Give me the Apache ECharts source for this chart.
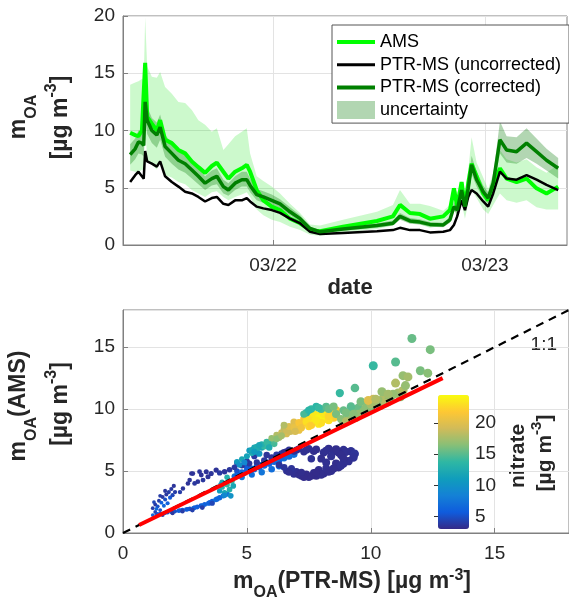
<!DOCTYPE html>
<html><head><meta charset="utf-8">
<script src="https://cdn.jsdelivr.net/npm/echarts@6/dist/echarts.min.js"></script>
<style>html,body{margin:0;padding:0;background:#fff}#c{width:569px;height:600px}</style>
</head><body><div id="c"></div>
<script>
// ---------- DATA ----------
// time in hours since 03/21 00:00
const hours = [7.81, 8.38, 8.75, 9.14, 9.35, 9.51, 9.74, 10.27, 10.83, 11.21, 11.77, 12.53, 13.28, 14.04, 14.80, 15.54, 16.30, 17.06, 17.63, 18.37, 18.94, 19.70, 20.46, 21.02, 21.40, 22.15, 22.90, 23.85, 24.79, 25.92, 27.06, 28.19, 29.32, 31.92, 35.77, 37.58, 38.38, 39.51, 40.64, 41.77, 43.28, 44.04, 44.49, 44.86, 45.36, 45.74, 46.11, 46.49, 47.06, 47.81, 48.37, 48.94, 49.70, 50.46, 51.59, 52.72, 53.85, 54.98, 56.30];
const amsOA = [9.8, 9.6, 9.5, 10.0, 9.9, 15.9, 11.2, 10.6, 10.0, 10.9, 9.2, 8.9, 8.3, 8.0, 7.3, 6.8, 6.3, 6.9, 7.2, 6.4, 5.8, 6.4, 6.7, 7.0, 6.4, 4.8, 3.9, 3.35, 3.05, 2.3, 1.9, 1.3, 1.2, 1.6, 2.1, 2.5, 3.5, 2.8, 2.7, 2.3, 2.5, 3.05, 4.95, 3.35, 5.5, 3.35, 5.4, 7.1, 6.0, 4.5, 3.9, 5.1, 6.7, 5.8, 5.5, 5.8, 4.95, 4.5, 5.1];
const ptrUncorrected = [5.5, 6.1, 6.4, 6.0, 5.8, 8.2, 7.3, 7.1, 6.85, 7.3, 6.0, 5.5, 5.1, 4.65, 4.5, 4.2, 3.8, 4.1, 4.2, 3.6, 3.5, 3.9, 3.9, 4.1, 3.8, 3.35, 3.2, 3.05, 2.8, 2.3, 1.9, 1.15, 0.95, 1.05, 1.2, 1.3, 1.5, 1.3, 1.3, 1.1, 1.15, 1.3, 1.75, 2.5, 3.9, 3.05, 4.2, 4.8, 4.5, 3.8, 3.35, 4.5, 6.4, 5.8, 5.7, 6.1, 5.7, 5.25, 4.8];
const ptrCorrected = [7.9, 8.4, 9.0, 8.9, 8.7, 12.5, 10.9, 10.0, 9.6, 10.3, 8.6, 8.0, 7.4, 7.1, 6.55, 6.0, 5.4, 5.8, 6.0, 5.1, 4.8, 5.4, 5.7, 5.7, 5.2, 4.4, 4.2, 3.9, 3.6, 2.9, 2.3, 1.45, 1.15, 1.4, 1.7, 1.9, 2.5, 2.1, 2.0, 1.8, 1.75, 2.2, 3.35, 3.05, 4.8, 3.35, 4.95, 7.0, 5.7, 4.65, 4.1, 5.4, 9.2, 8.3, 8.15, 8.9, 8.15, 7.4, 6.7];
const corrUncLow = [7.0, 7.5, 8.0, 7.9, 7.7, 11.1, 9.7, 8.9, 8.5, 9.2, 7.7, 7.1, 6.6, 6.3, 5.8, 5.3, 4.8, 5.2, 5.3, 4.5, 4.3, 4.8, 5.1, 5.1, 4.6, 3.9, 3.7, 3.5, 3.2, 2.6, 2.0, 1.3, 1.0, 1.25, 1.5, 1.7, 2.2, 1.85, 1.8, 1.6, 1.55, 1.95, 3.0, 2.7, 4.3, 3.0, 4.4, 6.2, 5.1, 4.1, 3.6, 4.8, 8.0, 7.2, 7.1, 7.6, 7.1, 6.5, 5.8];
const corrUncHigh = [8.8, 9.3, 10.0, 9.9, 9.7, 13.9, 12.1, 11.1, 10.7, 11.4, 9.6, 8.9, 8.2, 7.9, 7.3, 6.7, 6.0, 6.5, 6.7, 5.7, 5.4, 6.0, 6.4, 6.4, 5.8, 4.9, 4.7, 4.4, 4.0, 3.3, 2.6, 1.6, 1.3, 1.6, 1.9, 2.15, 2.8, 2.35, 2.25, 2.0, 1.95, 2.45, 3.75, 3.4, 5.4, 3.75, 5.5, 7.8, 6.4, 5.2, 4.6, 6.1, 10.8, 9.5, 9.4, 10.2, 9.3, 8.4, 7.6];
const amsUncLow = [6.5, 6.4, 6.3, 6.6, 6.5, 10.5, 7.4, 7.0, 6.6, 7.2, 6.1, 5.9, 5.5, 5.3, 4.8, 4.5, 4.2, 4.6, 4.7, 4.2, 3.9, 4.2, 4.4, 4.6, 4.2, 3.1, 2.6, 2.2, 2.0, 1.6, 1.3, 0.9, 0.8, 1.1, 1.4, 1.7, 2.3, 1.9, 1.8, 1.5, 1.7, 2.0, 3.3, 2.3, 3.7, 2.3, 3.7, 4.8, 4.1, 3.1, 2.7, 3.5, 4.5, 3.9, 3.7, 3.9, 3.3, 3.1, 3.1];
const amsUncHigh = [14.0, 14.2, 14.3, 14.5, 14.4, 19.9, 15.6, 14.7, 14.6, 15.1, 13.8, 13.2, 12.5, 12.4, 11.8, 10.9, 10.5, 9.9, 10.2, 8.3, 8.8, 9.5, 9.9, 10.2, 8.0, 6.0, 5.6, 5.1, 4.5, 3.6, 2.8, 1.8, 1.7, 2.2, 2.9, 3.5, 4.8, 3.6, 3.6, 3.4, 3.0, 3.5, 5.1, 4.6, 5.6, 4.4, 6.5, 9.4, 7.2, 5.9, 4.9, 6.3, 8.3, 7.5, 7.2, 7.5, 6.8, 6.3, 7.0];
const dayTickHours = [24, 48];

// scatter: [m_OA(PTR-MS), m_OA(AMS), nitrate]
const oaScatter = [
[1.2,1.45,6.5],[1.35,1.5,7],[1.5,1.55,6],[1.65,1.6,6.5],[1.8,1.65,5.5],[1.95,1.7,6],[2.1,1.75,5],[2.25,1.8,6],[2.4,1.85,5.5],[2.55,1.9,6],[2.7,1.95,5],[2.85,2.0,6.5],[3.0,2.1,6],[3.15,2.2,5.5],[3.3,2.3,6],[3.45,2.4,6.5],[3.6,2.55,6],[3.75,2.7,7],[3.9,2.85,6.5],[4.05,3.0,7.5],
[1.4,1.55,5.5],[1.7,1.62,6],[2.0,1.72,6.5],[2.3,1.83,6],[2.6,1.92,5.5],[2.9,2.05,6],[3.2,2.2,6.5],[3.5,2.45,6],[3.8,2.75,6.5],[4.2,3.15,7],
[1.6,1.45,4],[2.0,1.6,3.8],[2.4,1.75,4],[2.8,1.85,4.2],[3.2,2.05,4],[3.6,2.4,4.5],[1.3,1.7,4.5],[1.5,1.85,5],
[1.2,2.0,4],[1.3,2.3,3.8],[1.4,2.15,5],[1.45,2.6,4],[1.55,2.45,6],[1.6,2.9,3.8],[1.7,2.7,5],[1.75,3.1,3.8],[1.8,2.4,6],[1.85,3.3,4],[1.9,2.85,5.5],[1.95,3.55,3.8],[2.0,3.05,4.5],[2.05,3.8,3.6],[2.1,3.3,4],[1.35,1.95,6.5],[1.65,2.2,6.5],[1.25,2.5,4.5],[1.5,3.0,4],[1.7,3.4,3.7],
[2.42,3.6,3.6],[2.62,4.0,3.5],[2.76,4.8,3.5],[3.09,4.95,3.6],[3.16,4.68,3.5],[3.23,4.27,3.7],[3.43,4.54,3.5],[3.56,4.8,3.6],[3.76,5.08,3.5],[3.02,4.14,3.6],[2.89,4.0,3.7],[3.36,4.95,3.5],[2.69,4.27,3.6],[2.82,4.8,3.5],[2.3,3.3,4],[3.9,4.85,3.8],[4.1,4.95,3.6],[4.3,5.1,3.7],
[3.9,3.4,11],[4.0,3.7,13],[4.1,3.25,12],[4.2,3.9,14],[4.3,3.5,13],[4.4,4.2,14],[4.2,4.5,13],[4.0,4.1,12],[4.35,3.0,10],[4.5,4.6,13],[4.1,3.05,9],[4.45,3.8,12],[3.95,3.9,11],
[4.5,4.55,6.5],[4.7,4.75,6],[4.9,4.85,6.5],[5.1,5.0,6],[5.3,5.15,6.5],[5.5,5.3,6],[5.7,5.45,6.5],[5.9,5.6,6],[6.1,5.75,6.5],[6.3,5.9,6],[6.5,6.05,7],[6.7,6.2,6.5],[6.9,6.35,7],[4.8,4.5,7.5],[5.2,4.7,7],[5.6,4.9,7.5],[6.0,5.15,7],[6.3,5.4,7],[4.6,5.0,5],[5.0,5.3,5.5],
[4.6,4.65,6],[4.8,4.9,6.5],[5.0,5.05,6],[5.2,5.2,6.5],[5.4,5.4,6],[5.6,5.5,6.5],[5.8,5.65,6],[6.0,5.85,6.5],[6.2,6.0,7],[6.4,6.15,6.5],[6.6,6.25,7],[6.8,6.4,7],
[4.5,5.3,3.8],[4.8,5.45,3.6],[5.1,5.6,3.8],[5.4,5.7,3.6],[5.7,5.85,3.7],[6.0,6.1,3.6],[6.2,6.3,3.8],[4.6,5.65,4],[5.0,5.8,3.7],[5.3,6.2,3.8],[5.8,6.3,3.6],[6.4,6.4,3.8],
[6.5,6.5,3.4],[6.9,6.6,3.3],[7.3,6.55,3.3],[7.7,6.6,3.2],[8.1,6.5,3.3],[8.5,6.6,3.4],[8.9,6.7,3.3],[9.2,6.6,3.4],[9.35,6.4,3.5],[7.5,6.8,3.3],[8.3,6.8,3.2],[6.7,6.7,3.5],[7.1,6.8,3.4],[8.7,6.5,3.2],
[6.6,6.55,3.3],[7.0,6.7,3.4],[7.4,6.7,3.3],[7.8,6.75,3.2],[8.2,6.65,3.3],[8.6,6.75,3.2],[9.0,6.55,3.3],
[9.3,6.1,3.4],[9.1,5.8,3.3],[8.0,6.0,3.2],[8.4,6.2,3.3],[8.8,6.3,3.2],[7.6,6.0,3.4],[8.2,5.7,3.3],[8.9,6.0,3.2],
[6.3,5.5,3.6],[6.6,5.0,3.4],[6.9,4.75,3.3],[7.2,4.6,3.2],[7.5,4.5,3.2],[7.8,4.6,3.1],[8.1,4.8,3.2],[8.4,5.0,3.3],[8.7,5.3,3.2],[8.9,5.6,3.3],[7.0,4.95,3.3],[7.7,4.85,3.2],[8.2,5.2,3.3],[8.6,5.6,3.2],[6.8,5.2,3.5],[7.4,4.75,3.1],[6.5,5.3,3.6],[7.9,5.1,3.2],
[6.7,4.9,3.3],[7.1,4.7,3.2],[7.3,4.5,3.1],[7.6,4.6,3.1],[8.0,4.7,3.2],[8.3,4.95,3.2],[8.5,5.2,3.2],[8.8,5.45,3.3],[7.2,4.9,3.2],[7.8,4.9,3.1],
[4.6,5.75,11],[4.8,5.95,12],[5.0,6.2,11.5],[5.2,6.45,12.5],[5.4,6.7,13],[5.6,6.9,12],[5.8,7.1,13],[5.5,6.4,10.5],[5.9,7.3,13.5],[5.3,6.9,12],[5.7,7.0,14],[6.0,7.4,13.5],[5.1,6.65,11],[6.1,7.2,14.5],[4.7,5.5,10],[4.9,5.7,9],
[5.2,6.7,12],[5.4,6.95,12.5],[5.6,7.15,13],[5.8,7.35,14],[5.5,7.1,12],[5.9,6.9,12.5],[6.1,7.55,15],[5.3,6.55,11],
[6.0,7.65,17],[6.2,7.9,18],[6.4,8.1,19],[6.6,8.0,19.5],[6.3,7.7,17.5],[6.8,8.4,20],[7.0,8.6,20.5],[7.2,8.8,21],[6.9,8.95,20],[7.3,9.2,21.5],[6.75,8.2,19],[7.1,8.3,20.5],[6.5,8.4,18.5],
[6.2,7.6,16.5],[6.4,7.85,17.5],[6.6,8.3,19],[6.7,8.6,20],[6.9,8.5,20.5],[7.1,8.9,21.5],[7.2,8.5,21],[7.4,8.9,22],[6.95,8.2,19.5],[6.5,8.7,18],
[7.4,9.0,23],[7.6,9.3,23.5],[7.8,9.5,24],[8.0,9.6,23.5],[8.2,9.8,23],[8.4,9.7,22.5],[7.7,9.0,24],[7.9,8.8,23.5],[8.1,9.2,24],[8.5,9.3,22],[8.6,9.9,21.5],[7.5,8.6,22.5],[8.3,9.1,23],[7.6,8.7,22],
[7.5,9.3,23],[7.7,9.6,23.5],[7.9,9.3,24],[8.1,9.6,23.5],[8.3,9.45,22.5],[8.0,8.9,23],[7.8,9.1,23.5],[8.4,9.9,22],
[7.6,10.0,14],[7.8,10.2,13.5],[8.0,10.0,14.5],[7.4,9.7,13],[8.2,10.2,15],[7.3,9.6,14.5],[7.5,9.9,13.5],[7.9,10.1,14],[8.3,10.0,15.5],[8.5,10.2,16],
[8.6,9.6,16],[8.9,9.9,15.5],[9.1,9.4,17],[9.3,9.9,16],[9.5,10.1,15.5],[9.4,9.3,17.5],[9.7,9.8,16.5],[9.9,10.3,17],[10.0,10.0,16],[10.2,10.5,17.5],[10.4,10.3,16.5],[10.5,10.8,18],[10.8,11.0,17],[11.1,11.3,17.5],[9.2,10.2,15],[9.6,10.6,16],[10.1,10.8,19],[8.8,9.2,16.5],[9.0,9.0,18],[10.7,10.6,16],
[9.0,9.7,16],[9.5,9.6,17],[9.8,10.1,16.5],[10.3,10.7,17],[10.6,10.5,18],[10.9,11.2,17],[9.3,9.6,16.5],[10.0,10.4,17.5],[11.2,11.0,17],[11.3,11.5,18],
[11.3,12.7,17],[11.5,12.6,17.5],[11.0,12.1,18],[10.45,11.4,17],[10.7,11.2,17.5],[9.9,10.7,20],[10.2,10.8,18],[11.66,15.7,15.5],[12.4,14.8,16],[11.0,13.8,15],[10.1,13.5,14],[12.0,13.1,16],[12.3,12.9,16.5],[9.36,11.7,15],[8.75,11.3,14],[11.4,11.9,17]
];
const oneToOne = [0, 18];
const fitPTR = [0.65, 12.9];
const fitAMS = [0.65, 12.5];
const nitrateTicks = [5, 10, 15, 20];
const parula = ['#352a87','#0f5cdd','#1481d6','#109dbc','#2eb7a4','#87bf77','#d1bb59','#fec833','#f9fb0e'];

// ---------- CHART ----------
const FONT = "'Liberation Sans', Arial, Helvetica, sans-serif";
const TXT = '#262626';
const AX = '#808080';
const GRIDC = '#e3e3e3';
const T0 = Date.UTC(2019, 2, 21);
const pad2 = n => (n < 10 ? '0' : '') + n;
const fmtDay = h => { const d = new Date(T0 + h * 3600000); return pad2(d.getUTCMonth() + 1) + '/' + pad2(d.getUTCDate()); };

function band(name, lo, hi, color) {
  return {
    type: 'custom', name: name, xAxisIndex: 0, yAxisIndex: 0, silent: true, clip: true,
    itemStyle: { color: color },
    data: hours.map((h, i) => [h, lo[i], hi[i]]),
    encode: { x: 0, y: [1, 2] },
    renderItem: function (params, api) {
      if (params.dataIndex !== 0) return null;
      const pts = [];
      for (let i = 0; i < hours.length; i++) pts.push(api.coord([hours[i], hi[i]]));
      for (let i = hours.length - 1; i >= 0; i--) pts.push(api.coord([hours[i], lo[i]]));
      return { type: 'polygon', shape: { points: pts }, style: { fill: color } };
    }
  };
}
const lineData = arr => hours.map((h, i) => [h, arr[i]]);
const axisLbl = extra => Object.assign({ fontSize: 19, color: TXT, fontFamily: FONT }, extra);
const tick = extra => Object.assign({ inside: true, length: 5, lineStyle: { color: AX } }, extra);

const richBase = {
  m: { fontSize: 23, fontWeight: 'bold', fontFamily: FONT, color: TXT },
  n: { fontSize: 23, fontWeight: 'bold', fontFamily: FONT, color: TXT },
  s: { fontSize: 16, fontWeight: 'bold', fontFamily: FONT, color: TXT, padding: [26, 0, 0, 0] },
  p: { fontSize: 16, fontWeight: 'bold', fontFamily: FONT, color: TXT, padding: [0, 0, 18, 0] }
};
function label(text, x, y, rot, rich) {
  return {
    type: 'text', x: x, y: y, rotation: rot || 0, silent: true,
    style: { text: text, rich: rich || richBase, align: 'center', verticalAlign: 'middle',
      textAlign: 'center', textVerticalAlign: 'middle', fill: TXT, fontFamily: FONT }
  };
}
const richX = {
  m: richBase.m, n: richBase.n,
  s: Object.assign({}, richBase.s, { padding: [22, 0, 0, 0] }),
  p: Object.assign({}, richBase.p, { padding: [0, 0, 13, 0] })
};
const richCb = {
  n: { fontSize: 21, fontWeight: 'bold', fontFamily: FONT, color: TXT },
  p: { fontSize: 15, fontWeight: 'bold', fontFamily: FONT, color: TXT, padding: [0, 0, 16, 0] }
};

const option = {
  animation: false,
  backgroundColor: '#ffffff',
  textStyle: { fontFamily: FONT },
  grid: [
    { left: 123, top: 16, right: 2, height: 229, show: true, borderColor: AX, borderWidth: 1, backgroundColor: 'transparent' },
    { left: 123, top: 310, right: -2, height: 223, show: true, borderColor: AX, borderWidth: 1, backgroundColor: 'transparent' },
    { left: 438, top: 395, width: 31, height: 134 }
  ],
  xAxis: [
    { type: 'value', gridIndex: 0, min: 7.0, max: 57.3,
      axisLine: { lineStyle: { color: AX } },
      axisTick: tick({ customValues: dayTickHours }),
      axisLabel: axisLbl({ customValues: dayTickHours, formatter: fmtDay, margin: 11 }),
      splitLine: { show: true, lineStyle: { color: GRIDC } } },
    { type: 'value', gridIndex: 1, min: 0, max: 18, interval: 5,
      axisLine: { lineStyle: { color: AX } }, axisTick: tick(),
      axisLabel: axisLbl({ margin: 11, showMaxLabel: false }),
      splitLine: { show: true, lineStyle: { color: GRIDC } } },
    { type: 'value', gridIndex: 2, min: 0, max: 1, show: false }
  ],
  yAxis: [
    { type: 'value', gridIndex: 0, min: 0, max: 20, interval: 5,
      axisLine: { show: true, lineStyle: { color: AX } }, axisTick: tick({ show: true }),
      axisLabel: axisLbl({ margin: 8 }),
      splitLine: { show: true, lineStyle: { color: GRIDC } } },
    { type: 'value', gridIndex: 1, min: 0, max: 18, interval: 5,
      axisLine: { show: true, lineStyle: { color: AX } }, axisTick: tick({ show: true }),
      axisLabel: axisLbl({ margin: 8, showMaxLabel: false }),
      splitLine: { show: true, lineStyle: { color: GRIDC } } },
    { type: 'value', gridIndex: 2, position: 'right', min: 3, max: 24.5, z: 10,
      axisLine: { show: false },
      axisTick: { show: true, inside: true, length: 4, customValues: nitrateTicks, lineStyle: { color: '#333' } },
      axisLabel: axisLbl({ customValues: nitrateTicks, margin: 6 }),
      splitLine: { show: false } }
  ],
  visualMap: {
    type: 'continuous', min: 3, max: 24.5, dimension: 2, seriesIndex: 5,
    inRange: { color: parula }, orient: 'vertical',
    left: 438, top: 395, itemWidth: 31, itemHeight: 134, padding: 0,
    calculable: false, hoverLink: false, show: true
  },
  legend: {
    left: 332, top: 25, orient: 'vertical', itemWidth: 38, itemHeight: 18, itemGap: 4.7,
    padding: [8, 8, 4, 5], borderColor: '#555', borderWidth: 1, backgroundColor: '#fff',
    textStyle: { fontSize: 18, color: '#000', fontFamily: FONT },
    selectedMode: false,
    data: [
      { name: 'AMS', icon: 'path://M0,0H38V4H0Z' },
      { name: 'PTR-MS (uncorrected)', icon: 'path://M0,0H38V3H0Z' },
      { name: 'PTR-MS (corrected)', icon: 'path://M0,0H38V4H0Z' },
      { name: 'uncertainty', icon: 'rect' }
    ]
  },
  series: [
    band('AMS uncertainty', amsUncLow, amsUncHigh, 'rgba(0,225,0,0.2)'),
    band('uncertainty', corrUncLow, corrUncHigh, 'rgba(0,120,0,0.3)'),
    { type: 'line', name: 'AMS', xAxisIndex: 0, yAxisIndex: 0, data: lineData(amsOA), symbol: 'none',
      lineStyle: { color: '#00ff00', width: 4 }, itemStyle: { color: '#00ff00' }, z: 3 },
    { type: 'line', name: 'PTR-MS (uncorrected)', xAxisIndex: 0, yAxisIndex: 0, data: lineData(ptrUncorrected), symbol: 'none',
      lineStyle: { color: '#000000', width: 2.5 }, itemStyle: { color: '#000000' }, z: 3 },
    { type: 'line', name: 'PTR-MS (corrected)', xAxisIndex: 0, yAxisIndex: 0, data: lineData(ptrCorrected), symbol: 'none',
      lineStyle: { color: '#008000', width: 3.5 }, itemStyle: { color: '#008000' }, z: 3 },
    { type: 'scatter', name: 'scatter', xAxisIndex: 1, yAxisIndex: 1, data: oaScatter,
      symbolSize: v => Math.max(3.5, Math.min(9, 3 + v[0] * 0.6)), itemStyle: { opacity: 1 }, z: 2 },
    { type: 'line', name: '1:1', xAxisIndex: 1, yAxisIndex: 1, data: oneToOne.map(v => [v, v]), symbol: 'none',
      lineStyle: { color: '#000', width: 2.2, type: [8, 6] }, z: 3 },
    { type: 'line', name: 'fit', xAxisIndex: 1, yAxisIndex: 1, data: fitPTR.map((v, i) => [v, fitAMS[i]]), symbol: 'none',
      lineStyle: { color: '#ff0000', width: 4 }, z: 4 }
  ],
  graphic: [
    label('{m|m}{s|OA}', 19, 117, Math.PI / 2),
    label('{n|[µg m}{p|-3}{n|]}', 61, 117.5, Math.PI / 2),
    label('{m|m}{s|OA}{n|(AMS)}', 19, 406, Math.PI / 2),
    label('{n|[µg m}{p|-3}{n|]}', 61, 404, Math.PI / 2),
    label('{m|m}{s|OA}{n|(PTR-MS) [µg m}{p|-3}{n|]}', 352, 582, 0, richX),
    { type: 'text', x: 350, y: 288, silent: true,
      style: { text: 'date', fontSize: 22, fontWeight: 'bold', fontFamily: FONT, fill: TXT,
        align: 'center', verticalAlign: 'middle', textAlign: 'center', textVerticalAlign: 'middle' } },
    label('{n|nitrate}', 518, 456, Math.PI / 2, richCb),
    label('{n|[µg m}{p|-3}{n|]}', 545, 453, Math.PI / 2, richCb),
    { type: 'text', x: 557, y: 345, silent: true,
      style: { text: '1:1', fontSize: 19, fontFamily: FONT, fill: TXT,
        align: 'right', verticalAlign: 'middle', textAlign: 'right', textVerticalAlign: 'middle' } }
  ]
};
const chart = echarts.init(document.getElementById('c'), null, { renderer: 'canvas' });
chart.setOption(option);
</script></body></html>
